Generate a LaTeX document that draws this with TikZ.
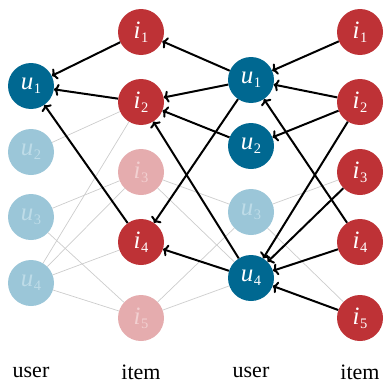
\documentclass[tikz,border=0pt]{standalone}
\usepackage{fontspec}
\setmainfont{Liberation Serif}
\usetikzlibrary{arrows.meta}
\definecolor{ublue}{RGB}{0,104,145}
\definecolor{ired}{RGB}{190,50,54}
\definecolor{ulight}{RGB}{155,198,216}
\definecolor{ulighttext}{RGB}{190,220,232}
\definecolor{ilight}{RGB}{229,172,174}
\definecolor{ilighttext}{RGB}{242,208,209}
\newcommand{\nlab}[2]{\textit{#1}\kern0.5pt\raisebox{-4pt}{\fontsize{14.5}{15}\selectfont #2}}
\begin{document}
\begin{tikzpicture}[x=1pt,y=-1pt,
  base/.style={circle,minimum size=46pt,inner sep=0pt,font=\fontsize{25}{28}\selectfont},
  uon/.style={base,fill=ublue,text=white},
  uoff/.style={base,fill=ulight,text=ulighttext},
  ion/.style={base,fill=ired,text=white},
  ioff/.style={base,fill=ilight,text=ilighttext},
  faint/.style={draw=black!20,line width=0.7pt},
  arr/.style={draw=black,line width=2pt,-{To[length=5pt,width=12pt]}},
  lab/.style={font=\fontsize{22}{26}\selectfont}]
\useasboundingbox (0,0) rectangle (384,388);
% column 1: users
\node[uon]  (a1) at (31,86)  {\nlab{u}{1}};
\node[uoff] (a2) at (31,152) {\nlab{u}{2}};
\node[uoff] (a3) at (31,217) {\nlab{u}{3}};
\node[uoff] (a4) at (31,283) {\nlab{u}{4}};
% column 2: items
\node[ion]  (b1) at (141,32)  {\nlab{i}{1}};
\node[ion]  (b2) at (141,102) {\nlab{i}{2}};
\node[ioff] (b3) at (141,172) {\nlab{i}{3}};
\node[ion]  (b4) at (141,242) {\nlab{i}{4}};
\node[ioff] (b5) at (141,318) {\nlab{i}{5}};
% column 3: users
\node[uon]  (c1) at (251,80)  {\nlab{u}{1}};
\node[uon]  (c2) at (251,146) {\nlab{u}{2}};
\node[uoff] (c3) at (251,212) {\nlab{u}{3}};
\node[uon]  (c4) at (251,278) {\nlab{u}{4}};
% column 4: items
\node[ion] (d1) at (360,32)  {\nlab{i}{1}};
\node[ion] (d2) at (360,102) {\nlab{i}{2}};
\node[ion] (d3) at (360,172) {\nlab{i}{3}};
\node[ion] (d4) at (360,242) {\nlab{i}{4}};
\node[ion] (d5) at (360,318) {\nlab{i}{5}};
% faint edges
\draw[faint] (a2) -- (b2);
\draw[faint] (a3) -- (b3);
\draw[faint] (a3) -- (b5);
\draw[faint] (a4) -- (b2);
\draw[faint] (a4) -- (b3);
\draw[faint] (a4) -- (b4);
\draw[faint] (a4) -- (b5);
\draw[faint] (b3) -- (c3);
\draw[faint] (b3) -- (c4);
\draw[faint] (b5) -- (c3);
\draw[faint] (b5) -- (c4);
\draw[faint] (c3) -- (d3);
\draw[faint] (c3) -- (d5);
% arrows
\draw[arr] (b1) -- (a1);
\draw[arr] (b2) -- (a1);
\draw[arr] (b4) -- (a1);
\draw[arr] (c1) -- (b1);
\draw[arr] (c1) -- (b2);
\draw[arr] (c2) -- (b2);
\draw[arr] (c4) -- (b2);
\draw[arr] (c1) -- (b4);
\draw[arr] (c4) -- (b4);
\draw[arr] (d1) -- (c1);
\draw[arr] (d2) -- (c1);
\draw[arr] (d4) -- (c1);
\draw[arr] (d2) -- (c2);
\draw[arr] (d2) -- (c4);
\draw[arr] (d3) -- (c4);
\draw[arr] (d4) -- (c4);
\draw[arr] (d5) -- (c4);
% labels
\node[lab] (l1) at (31,372)  {user};
\node[lab] (l2) at (141,372) {item};
\node[lab] (l3) at (251,372) {user};
\node[lab] (l4) at (360,372) {item};
\end{tikzpicture}
\end{document}
